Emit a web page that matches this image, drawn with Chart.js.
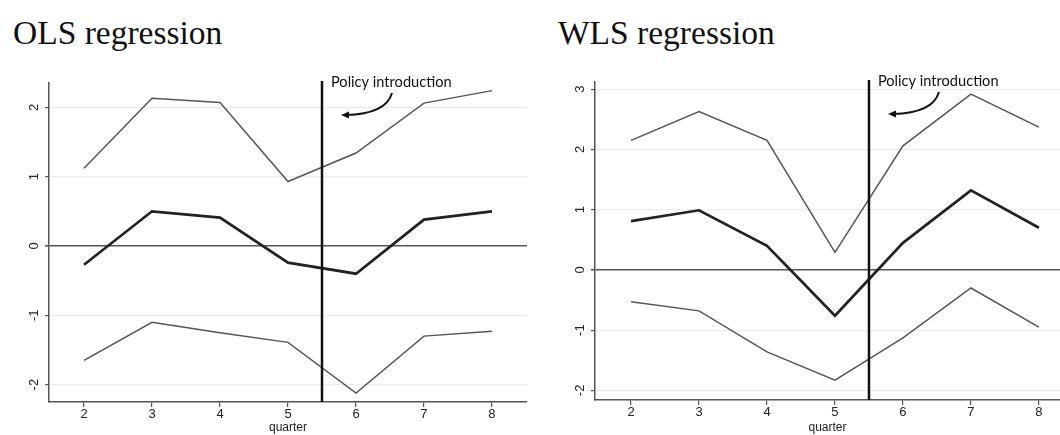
<!DOCTYPE html>
<html>
<head>
<meta charset="utf-8">
<title>OLS and WLS regression</title>
<script src="https://cdn.jsdelivr.net/npm/chart.js@4.4.0/dist/chart.umd.min.js"></script>
<style>
  body { margin: 0; background: #fff; width: 1060px; height: 435px; overflow: hidden; position: relative; }
  .title { position: absolute; top: 16px; font: 33.5px/33px "Liberation Serif", "Times New Roman", serif; color: #111; white-space: nowrap; }
  .panel { position: absolute; top: 0; height: 435px; }
</style>
</head>
<body>
<div class="title" style="left:13px">OLS regression</div>
<div class="title" style="left:558px">WLS regression</div>
<div class="panel" style="left:0;width:540px"><canvas id="ols" width="540" height="435"></canvas></div>
<div class="panel" style="left:540px;width:520px"><canvas id="wls" width="520" height="435"></canvas></div>
<script>
// quarters on the x axis
var quarters = [2, 3, 4, 5, 6, 7, 8];

// OLS: estimate with upper and lower confidence bounds
var olsEstimate = [-0.27, 0.50, 0.41, -0.24, -0.40, 0.38, 0.50];
var olsUpper = [1.12, 2.13, 2.07, 0.93, 1.34, 2.06, 2.24];
var olsLower = [-1.65, -1.10, -1.25, -1.39, -2.12, -1.30, -1.23];

// WLS: estimate with upper and lower confidence bounds
var wlsEstimate = [0.81, 0.99, 0.40, -0.76, 0.45, 1.32, 0.70];
var wlsUpper = [2.15, 2.63, 2.15, 0.29, 2.06, 2.92, 2.37];
var wlsLower = [-0.53, -0.68, -1.36, -1.83, -1.13, -0.30, -0.95];

var olsYTicks = [-2, -1, 0, 1, 2];
var wlsYTicks = [-2, -1, 0, 1, 2, 3];

var policyQuarter = 5.5;
var policyLabel = 'Policy introduction';

function points(ys) {
    return quarters.map(function (q, i) { return { x: q, y: ys[i] }; });
}

function band(ys) {
    return { data: points(ys), borderColor: '#555', borderWidth: 1.5, pointRadius: 0, tension: 0 };
}

// vertical policy line, its label with a curved arrow, and rotated y labels
var policyPlugin = {
    id: 'policy',
    afterDatasetsDraw: function (chart) {
        var ctx = chart.ctx;
        var area = chart.chartArea;
        var lx = chart.scales.x.getPixelForValue(policyQuarter);
        ctx.save();
        ctx.strokeStyle = '#111';
        ctx.lineWidth = 2.5;
        ctx.beginPath();
        ctx.moveTo(lx, area.top - 2);
        ctx.lineTo(lx, area.bottom);
        ctx.stroke();

        ctx.fillStyle = '#111';
        ctx.font = '14.6px Lato, "Open Sans", sans-serif';
        ctx.textAlign = 'left';
        ctx.textBaseline = 'alphabetic';
        ctx.fillText(policyLabel, lx + 9, area.top + 4);

        var sx = lx + 70, sy = area.top + 10;
        var ex = lx + 24, ey = area.top + 32;
        ctx.lineWidth = 2;
        ctx.beginPath();
        ctx.moveTo(sx, sy);
        ctx.quadraticCurveTo(sx - 6, ey - 1, ex, ey);
        ctx.stroke();
        ctx.beginPath();
        ctx.moveTo(ex - 5, ey);
        ctx.lineTo(ex + 3, ey - 3.5);
        ctx.lineTo(ex + 3, ey + 3.5);
        ctx.closePath();
        ctx.fill();
        ctx.restore();
    },
    afterDraw: function (chart) {
        var ctx = chart.ctx;
        var ys = chart.scales.y;
        ctx.save();
        ctx.fillStyle = '#222';
        ctx.font = '13px "Liberation Sans", Arial, sans-serif';
        ctx.textAlign = 'center';
        ctx.textBaseline = 'middle';
        ys.ticks.forEach(function (t) {
            ctx.save();
            ctx.translate(chart.chartArea.left - 15, ys.getPixelForValue(t.value));
            ctx.rotate(-Math.PI / 2);
            ctx.fillText(String(t.value), 0, 0);
            ctx.restore();
        });
        ctx.restore();
    }
};

function makeChart(id, est, upper, lower, yTicks, cfg) {
    return new Chart(document.getElementById(id), {
        type: 'line',
        data: {
            datasets: [
                band(upper),
                band(lower),
                { data: points(est), borderColor: '#222', borderWidth: 2.7, pointRadius: 0, tension: 0 }
            ]
        },
        options: {
            responsive: false,
            animation: false,
            layout: { padding: { top: cfg.top, right: cfg.right, left: 0, bottom: 0 } },
            plugins: { legend: { display: false }, tooltip: { enabled: false } },
            scales: {
                x: {
                    type: 'linear',
                    min: cfg.xMin,
                    max: cfg.xMax,
                    afterBuildTicks: function (s) { s.ticks = quarters.map(function (v) { return { value: v }; }); },
                    afterFit: function (s) { s.height = cfg.xHeight; },
                    grid: { display: true, drawOnChartArea: false, drawTicks: true, tickLength: 5, color: '#555', lineWidth: 1.2 },
                    border: { display: true, color: '#555', width: 1.5 },
                    ticks: {
                        font: { family: 'Liberation Sans', size: 13 }, color: '#222', padding: 0,
                        maxRotation: 0, autoSkip: false
                    },
                    title: {
                        display: true, text: 'quarter', color: '#222', padding: 0,
                        font: { family: 'Liberation Sans', size: 12 }
                    }
                },
                y: {
                    min: cfg.yMin,
                    max: cfg.yMax,
                    afterBuildTicks: function (s) { s.ticks = yTicks.map(function (v) { return { value: v }; }); },
                    afterFit: function (s) { s.width = cfg.yWidth; },
                    grid: {
                        color: function (c) { return c.tick && c.tick.value === 0 ? '#555' : '#ececec'; },
                        lineWidth: function (c) { return c.tick && c.tick.value === 0 ? 1.6 : 1.2; },
                        tickColor: '#555',
                        tickLength: 4,
                        drawTicks: true
                    },
                    border: { display: true, color: '#555', width: 1.5 },
                    ticks: { display: false }
                }
            }
        },
        plugins: [policyPlugin]
    });
}

makeChart('ols', olsEstimate, olsUpper, olsLower, olsYTicks, {
    top: 83, right: 13, xHeight: 33, yWidth: 49,
    xMin: 1.485, xMax: 8.515, yMin: -2.25, yMax: 2.35
});

makeChart('wls', wlsEstimate, wlsUpper, wlsLower, wlsYTicks, {
    top: 82, right: 0, xHeight: 35, yWidth: 55,
    xMin: 1.47, xMax: 8.31, yMin: -2.16, yMax: 3.12
});
</script>
</body>
</html>
